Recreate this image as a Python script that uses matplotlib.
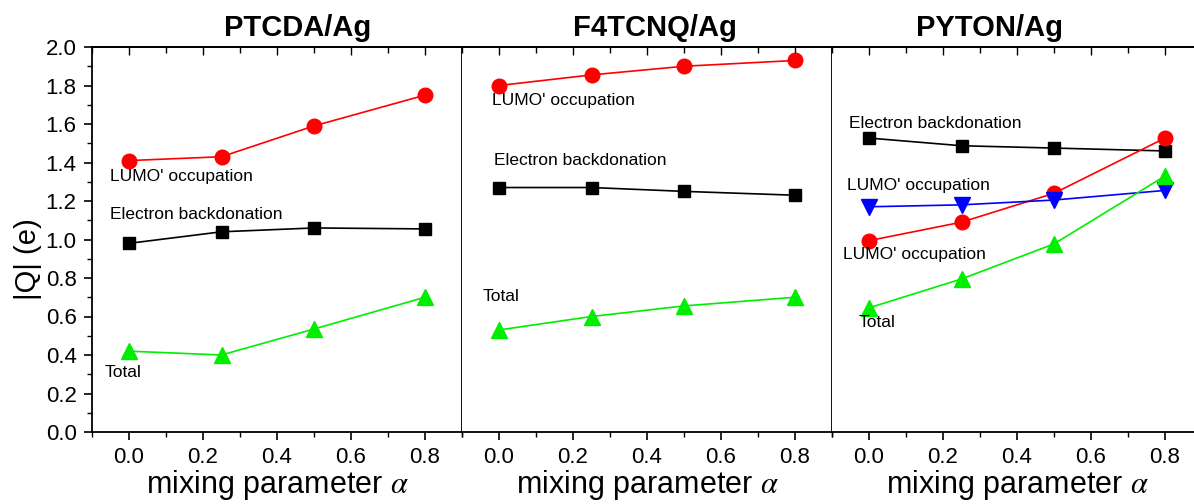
import matplotlib
matplotlib.use("Agg")
import matplotlib.pyplot as plt
from matplotlib.ticker import MultipleLocator

plt.rcParams['font.family'] = ['Liberation Sans', 'DejaVu Sans']
plt.rcParams['mathtext.fontset'] = 'stix'

alpha = [0.0, 0.25, 0.5, 0.8]

# PTCDA/Ag
ptcda_lumo = [1.41, 1.43, 1.59, 1.75]
ptcda_back = [0.98, 1.04, 1.06, 1.055]
ptcda_total = [0.42, 0.40, 0.535, 0.70]

# F4TCNQ/Ag
f4tcnq_lumo = [1.80, 1.855, 1.90, 1.93]
f4tcnq_back = [1.27, 1.27, 1.25, 1.23]
f4tcnq_total = [0.53, 0.60, 0.655, 0.70]

# PYTON/Ag (two LUMO' orbitals)
pyton_back = [1.527, 1.487, 1.475, 1.46]
pyton_lumo1 = [1.17, 1.18, 1.205, 1.255]
pyton_lumo2 = [0.994, 1.09, 1.24, 1.527]
pyton_total = [0.645, 0.795, 0.977, 1.33]

titles = ["PTCDA/Ag", "F4TCNQ/Ag", "PYTON/Ag"]
title_x = [298, 655, 990]
xticks = [0.0, 0.2, 0.4, 0.6, 0.8]
yticks = [0.0, 0.2, 0.4, 0.6, 0.8, 1.0, 1.2, 1.4, 1.6, 1.8, 2.0]

W, H = 1194, 504
fig = plt.figure(figsize=(W / 100, H / 100), dpi=100)

# three panels side by side, the last one runs off the right edge
x0, pw = 92, 370
bot, top = 72, 457
axes = []
for i in range(3):
    ax = fig.add_axes([(x0 + i * pw) / W, bot / H, pw / W, (top - bot) / H])
    axes.append(ax)

red = dict(color='#ff0000', marker='o', ms=10.5, lw=1.2)
blk = dict(color='black', marker='s', ms=9, lw=1.2)
grn = dict(color='#00ee00', marker='^', ms=12, lw=1.2)
blu = dict(color='#0000ff', marker='v', ms=12, lw=1.2)
lbl = dict(fontsize=12.5, va='center')

ax = axes[0]
ax.plot(alpha, ptcda_lumo, **red)
ax.plot(alpha, ptcda_back, **blk)
ax.plot(alpha, ptcda_total, **grn)
ax.text(-0.05, 1.325, "LUMO' occupation", **lbl)
ax.text(-0.05, 1.13, "Electron backdonation", **lbl)
ax.text(-0.065, 0.31, "Total", **lbl)

ax = axes[1]
ax.plot(alpha, f4tcnq_lumo, **red)
ax.plot(alpha, f4tcnq_back, **blk)
ax.plot(alpha, f4tcnq_total, **grn)
ax.text(-0.02, 1.72, "LUMO' occupation", **lbl)
ax.text(-0.014, 1.41, "Electron backdonation", **lbl)
ax.text(-0.043, 0.705, "Total", **lbl)

ax = axes[2]
ax.plot(alpha, pyton_back, **blk)
ax.plot(alpha, pyton_lumo2, **red)
ax.plot(alpha, pyton_lumo1, **blu)
ax.plot(alpha, pyton_total, **grn)
ax.text(-0.054, 1.60, "Electron backdonation", **lbl)
ax.text(-0.06, 1.28, "LUMO' occupation", **lbl)
ax.text(-0.07, 0.92, "LUMO' occupation", **lbl)
ax.text(-0.027, 0.57, "Total", **lbl)

for i, ax in enumerate(axes):
    ax.set_xlim(-0.1, 0.9)
    ax.set_ylim(0, 2.0)
    ax.xaxis.set_minor_locator(MultipleLocator(0.1))
    ax.yaxis.set_minor_locator(MultipleLocator(0.1))
    ax.set_xticks(xticks)
    ax.set_xticklabels(['%.1f' % v for v in xticks])
    ax.tick_params(which='major', direction='out', length=6, width=1.2, labelsize=16, pad=5)
    ax.tick_params(which='minor', direction='out', length=3.5, width=1.0)
    for s in ax.spines.values():
        s.set_linewidth(1.3)
    if i > 0:
        ax.tick_params(axis='y', which='both', left=False, labelleft=False)
        ax.spines['left'].set_visible(False)
    ax.set_xlabel(r"mixing parameter $\alpha$", fontsize=22, labelpad=0)

    # inward ticks along the top edge
    sec = ax.secondary_xaxis('top')
    sec.set_xticks(xticks)
    sec.xaxis.set_minor_locator(MultipleLocator(0.1))
    sec.tick_params(which='both', direction='in', labeltop=False, width=1.0)
    sec.tick_params(which='major', length=6)
    sec.tick_params(which='minor', length=4.5)
    sec.spines['top'].set_linewidth(1.3)

    fig.text(title_x[i] / W, 1 - 36 / H, titles[i], fontsize=21,
             fontweight='bold', ha='center', va='baseline')

axes[0].set_yticks(yticks)
axes[0].set_yticklabels(['%.1f' % v for v in yticks])
axes[0].set_ylabel("|Q| (e)", fontsize=21)
axes[0].yaxis.set_label_coords(-0.135, 0.45)

fig.savefig("out.png", dpi=100)
